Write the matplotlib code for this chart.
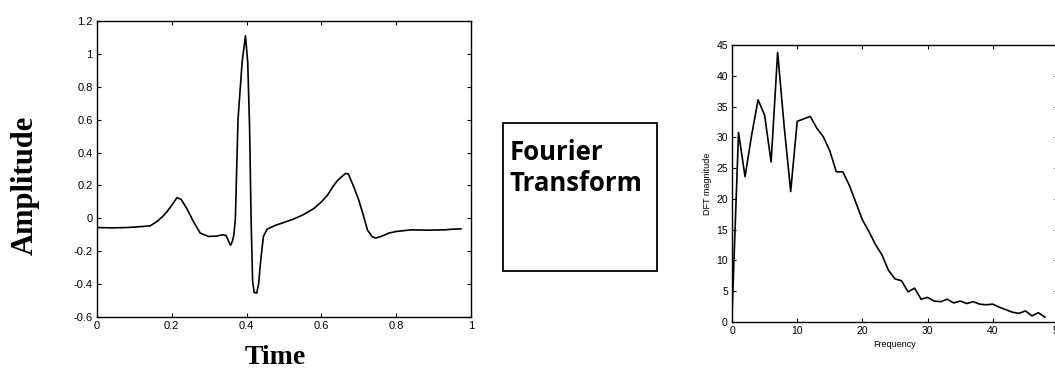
import matplotlib.pyplot as plt
from matplotlib.patches import Rectangle

# ECG beat (time in s, amplitude)
ecg_time = [0.0, 0.04, 0.08, 0.12, 0.142, 0.16, 0.175, 0.187, 0.2, 0.214,
            0.225, 0.24, 0.258, 0.276, 0.298, 0.32, 0.335, 0.345, 0.352, 0.357,
            0.362, 0.366, 0.37, 0.377, 0.388, 0.397, 0.403, 0.408, 0.412, 0.416,
            0.42, 0.427, 0.432, 0.438, 0.445, 0.455, 0.48, 0.5, 0.526, 0.55,
            0.58, 0.6, 0.616, 0.63, 0.643, 0.655, 0.665, 0.672, 0.685, 0.70,
            0.712, 0.723, 0.735, 0.745, 0.76, 0.78, 0.8, 0.84, 0.88, 0.93,
            0.95, 0.973]
ecg_amp = [-0.056, -0.058, -0.056, -0.05, -0.046, -0.02, 0.01, 0.04, 0.08, 0.126,
           0.115, 0.06, -0.02, -0.09, -0.11, -0.108, -0.1, -0.104, -0.14, -0.164,
           -0.14, -0.1, 0.0, 0.6, 0.95, 1.11, 0.95, 0.55, 0.0, -0.38,
           -0.45, -0.455, -0.4, -0.25, -0.11, -0.065, -0.04, -0.025, -0.004, 0.02,
           0.06, 0.1, 0.14, 0.19, 0.23, 0.255, 0.273, 0.27, 0.2, 0.11,
           0.02, -0.07, -0.11, -0.12, -0.11, -0.09, -0.08, -0.07, -0.072, -0.07,
           -0.066, -0.064]

# DFT magnitude, one value per frequency bin 0..48
freq = list(range(49))
dft_mag = [1.0, 30.8, 23.6, 30.3, 36.1, 33.6, 26.0, 43.8, 31.8, 21.2,
           32.6, 33.0, 33.4, 31.5, 30.1, 27.8, 24.4, 24.4, 22.2, 19.4,
           16.6, 14.7, 12.6, 10.9, 8.4, 7.0, 6.7, 4.9, 5.5, 3.7,
           4.0, 3.4, 3.3, 3.7, 3.1, 3.4, 3.0, 3.3, 2.9, 2.8,
           2.9, 2.4, 2.0, 1.6, 1.4, 1.8, 1.0, 1.5, 0.8]

W, H = 1055, 370
fig = plt.figure(figsize=(W / 100, H / 100), dpi=100)

def matlab_axes(ax, size):
    ax.tick_params(direction='in', top=True, right=True, length=3, width=0.8,
                   pad=3, labelsize=size)
    for lab in ax.get_xticklabels() + ax.get_yticklabels():
        lab.set_fontfamily('Liberation Sans')
    for s in ax.spines.values():
        s.set_linewidth(1.0)

# left: time domain
ax1 = fig.add_axes([97 / W, (H - 317) / H, 374 / W, 296 / H])
ax1.plot(ecg_time, ecg_amp, color='black', lw=1.2)
ax1.set_xlim(0, 1)
ax1.set_ylim(-0.6, 1.2)
ax1.set_xticks([0, 0.2, 0.4, 0.6, 0.8, 1])
ax1.set_xticklabels(['0', '0.2', '0.4', '0.6', '0.8', '1'])
ax1.set_yticks([-0.6, -0.4, -0.2, 0, 0.2, 0.4, 0.6, 0.8, 1, 1.2])
ax1.set_yticklabels(['-0.6', '-0.4', '-0.2', '0', '0.2', '0.4', '0.6', '0.8', '1', '1.2'])
matlab_axes(ax1, 8)

fig.text(25 / W, 1 - 185 / H, 'Amplitude', rotation=90, ha='center', va='center',
         family='Liberation Serif', weight='bold', size=22)
fig.text(275 / W, 1 - 358 / H, 'Time', ha='center', va='center',
         family='Liberation Serif', weight='bold', size=20)

# middle box
fig.patches.append(Rectangle((503 / W, (H - 271) / H), 154 / W, 148 / H,
                             transform=fig.transFigure, fill=False,
                             edgecolor='black', lw=1.3))
fig.text(510 / W, 1 - 139 / H, 'Fourier\nTransform', ha='left', va='top',
         family='Open Sans', weight='bold', size=18.5, linespacing=1.2)

# right: frequency domain
ax2 = fig.add_axes([732 / W, (H - 322) / H, 326 / W, 277 / H])
ax2.plot(freq, dft_mag, color='black', lw=1.2)
ax2.set_xlim(0, 50)
ax2.set_ylim(0, 45)
ax2.set_xticks([0, 10, 20, 30, 40, 50])
ax2.set_yticks(range(0, 46, 5))
matlab_axes(ax2, 7.5)
ax2.set_xlabel('Frequency', family='Liberation Sans', size=6.5, labelpad=3)
ax2.set_ylabel('DFT magnitude', family='Liberation Sans', size=6.5, labelpad=3)

fig.savefig('out.png', dpi=100)
